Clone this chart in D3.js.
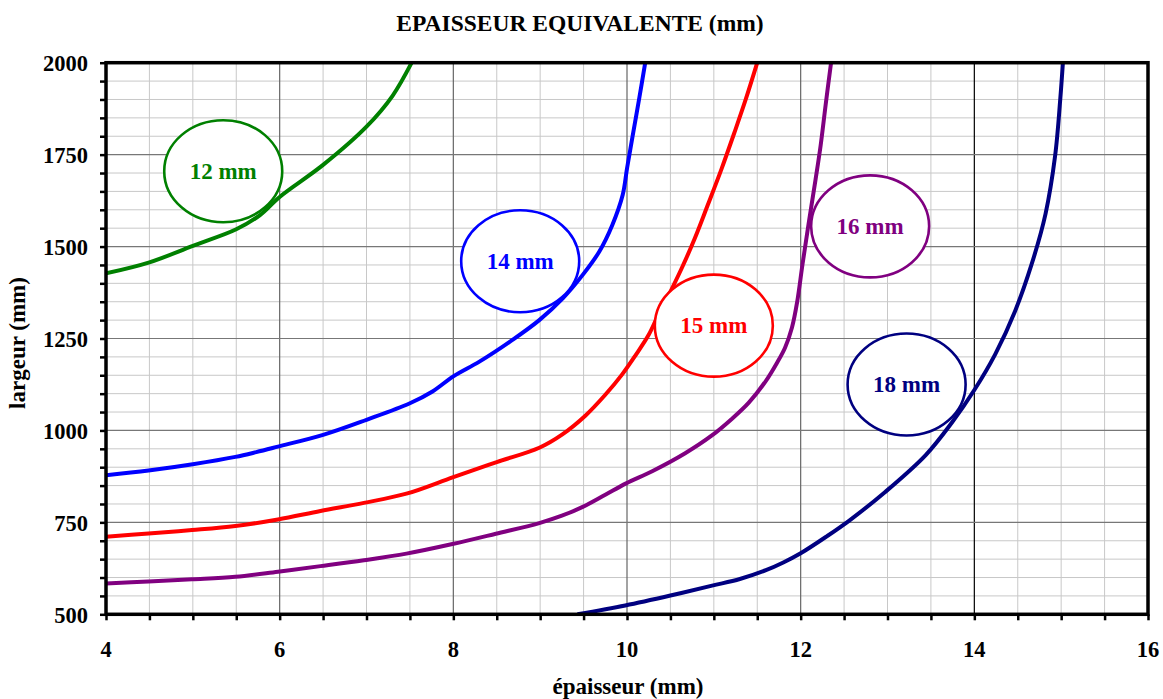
<!DOCTYPE html>
<html>
<head>
<meta charset="utf-8">
<script src="https://cdn.jsdelivr.net/npm/d3@7"></script>
<style>
  html, body { margin: 0; padding: 0; background: #fff; }
  svg { display: block; }
  text { font-family: "Liberation Serif", "Times New Roman", serif; font-weight: bold; }
</style>
</head>
<body>
<svg id="chart" width="1163" height="699"></svg>
<script>
// ---- Data ----
const xTicks = [4, 6, 8, 10, 12, 14, 16];
const yTicks = [500, 750, 1000, 1250, 1500, 1750, 2000];

const s12X = [4, 4.5, 5.0, 5.5, 5.77, 6.0, 6.5, 7.0, 7.3, 7.52];
const s12Y = [1427, 1457, 1502, 1547, 1585, 1635, 1722, 1826, 1910, 2000];

const s14X = [4, 4.49, 5.0, 5.49, 5.73, 5.98, 6.5, 7.0, 7.5, 7.76, 8.0, 8.3, 8.68, 8.99, 9.26, 9.49, 9.68, 9.83, 9.95, 10.0, 10.06, 10.14, 10.21];
const s14Y = [878, 891, 908, 928, 941, 956, 988, 1029, 1074, 1106, 1147, 1187, 1246, 1300, 1359, 1423, 1486, 1558, 1640, 1712, 1794, 1902, 2000];

const s15X = [4, 4.49, 4.99, 5.49, 5.98, 6.47, 6.97, 7.46, 8.0, 8.5, 8.99, 9.26, 9.52, 9.75, 9.94, 10.1, 10.25, 10.36, 10.48, 10.63, 10.78, 10.93, 11.09, 11.24, 11.37, 11.5];
const s15Y = [711, 720, 729, 740, 758, 781, 803, 828, 873, 914, 953, 990, 1040, 1097, 1151, 1205, 1260, 1314, 1368, 1441, 1522, 1613, 1712, 1812, 1902, 2000];

const s16X = [4, 4.49, 4.99, 5.49, 5.98, 6.47, 6.97, 7.46, 7.99, 8.49, 8.99, 9.25, 9.49, 9.75, 9.99, 10.29, 10.67, 10.97, 11.2, 11.4, 11.6, 11.73, 11.82, 11.9, 11.96, 12.02, 12.09, 12.17, 12.23, 12.29, 12.35];
const s16Y = [584, 589, 595, 602, 616, 631, 647, 665, 691, 719, 748, 768, 792, 825, 856, 889, 938, 985, 1030, 1075, 1135, 1185, 1225, 1280, 1350, 1450, 1560, 1680, 1775, 1890, 2000];

const s18X = [9.43, 9.98, 10.5, 10.98, 11.3, 11.6, 11.8, 12.0, 12.3, 12.56, 12.97, 13.44, 13.74, 14.0, 14.24, 14.47, 14.66, 14.82, 14.93, 14.99, 15.02];
const s18Y = [500, 524, 551, 578, 596, 620, 641, 666, 712, 755, 832, 933, 1021, 1110, 1207, 1325, 1452, 1589, 1746, 1902, 2000];

const seriesNames = ["12 mm", "14 mm", "15 mm", "16 mm", "18 mm"];
const seriesColors = ["#008000", "#0000ff", "#ff0000", "#800080", "#000080"];
// label ellipse centers (data units)
const labelX = [5.35, 8.77, 11.0, 12.8, 13.22];
const labelY = [1705, 1460, 1285, 1555, 1125];

const seriesXs = [s12X, s14X, s15X, s16X, s18X];
const seriesYs = [s12Y, s14Y, s15Y, s16Y, s18Y];

// ---- Layout ----
const L = 106, R = 1148, T = 62.7, B = 614.3;

const svg = d3.select("#chart");
const x = d3.scaleLinear().domain([4, 16]).range([L, R]);
const y = d3.scaleLinear().domain([500, 2000]).range([B, T]);

const xMinor = d3.range(4, 16.001, 0.5);
const yMinor = d3.range(500, 2000.1, 50);

const grid = svg.append("g");
grid.selectAll(".vmin").data(xMinor.filter(v => Math.abs(v % 2) > 0.01)).join("line")
  .attr("x1", d => x(d)).attr("x2", d => x(d)).attr("y1", T).attr("y2", B)
  .attr("stroke", "#c8c8c8").attr("stroke-width", 1);
grid.selectAll(".hmin").data(yMinor.filter(v => v % 250 !== 0)).join("line")
  .attr("x1", L).attr("x2", R).attr("y1", d => y(d)).attr("y2", d => y(d))
  .attr("stroke", "#c8c8c8").attr("stroke-width", 1);
grid.selectAll(".vmaj").data(xTicks.slice(1, -1)).join("line")
  .attr("x1", d => x(d)).attr("x2", d => x(d)).attr("y1", T).attr("y2", B)
  .attr("stroke", d => d === 14 ? "#000" : "#666").attr("stroke-width", 1.2);
grid.selectAll(".hmaj").data(yTicks.slice(1, -1)).join("line")
  .attr("x1", L).attr("x2", R).attr("y1", d => y(d)).attr("y2", d => y(d))
  .attr("stroke", "#777").attr("stroke-width", 1.2);

svg.append("clipPath").attr("id", "plotclip").append("rect")
  .attr("x", L).attr("y", T).attr("width", R - L).attr("height", B - T);

const line = d3.line().x(d => x(d[0])).y(d => y(d[1])).curve(d3.curveCatmullRom.alpha(0.5));

const curves = svg.append("g").attr("clip-path", "url(#plotclip)");
seriesXs.forEach((xs, i) => {
  const pts = xs.map((v, j) => [v, seriesYs[i][j]]);
  curves.append("path").datum(pts)
    .attr("d", line)
    .attr("fill", "none")
    .attr("stroke", seriesColors[i])
    .attr("stroke-width", 4)
    .attr("stroke-linejoin", "round");
});

const rx = 59, ry = 51;
seriesNames.forEach((name, i) => {
  const cx = x(labelX[i]), cy = y(labelY[i]);
  svg.append("ellipse").attr("cx", cx).attr("cy", cy).attr("rx", rx).attr("ry", ry)
    .attr("fill", "#fff").attr("stroke", seriesColors[i]).attr("stroke-width", 2.6);
  svg.append("text").attr("x", cx).attr("y", cy + 7.5)
    .attr("text-anchor", "middle").attr("font-size", 23)
    .attr("fill", seriesColors[i]).text(name);
});

const xAxis = d3.axisBottom(x).tickValues(xMinor).tickSize(6).tickFormat("");
const yAxis = d3.axisLeft(y).tickValues(yMinor).tickSize(6).tickFormat("");
const gx = svg.append("g").attr("transform", `translate(0,${B})`).call(xAxis);
const gy = svg.append("g").attr("transform", `translate(${L},0)`).call(yAxis);
[gx, gy].forEach(g => {
  g.select(".domain").remove();
  g.selectAll(".tick line").attr("stroke", "#000").attr("stroke-width", 2.5);
});

svg.append("rect").attr("x", L).attr("y", T).attr("width", R - L).attr("height", B - T)
  .attr("fill", "none").attr("stroke", "#000").attr("stroke-width", 3.5);

svg.append("g").selectAll("text").data(xTicks).join("text")
  .attr("x", d => x(d)).attr("y", 657).attr("text-anchor", "middle")
  .attr("font-size", 22.5).attr("fill", "#000").text(d => d);
svg.append("g").selectAll("text").data(yTicks).join("text")
  .attr("x", 88).attr("y", d => y(d) + 8.5).attr("text-anchor", "end")
  .attr("font-size", 22.5).attr("fill", "#000").text(d => d);

svg.append("text").attr("x", 580).attr("y", 30.5).attr("text-anchor", "middle")
  .attr("font-size", 23.5).attr("fill", "#000").text("EPAISSEUR EQUIVALENTE (mm)");
svg.append("text").attr("x", 628).attr("y", 694).attr("text-anchor", "middle")
  .attr("font-size", 23).attr("fill", "#000").text("épaisseur (mm)");
svg.append("text").attr("transform", "translate(25,343) rotate(-90)").attr("text-anchor", "middle")
  .attr("font-size", 23).attr("fill", "#000").text("largeur (mm)");
</script>
</body>
</html>
